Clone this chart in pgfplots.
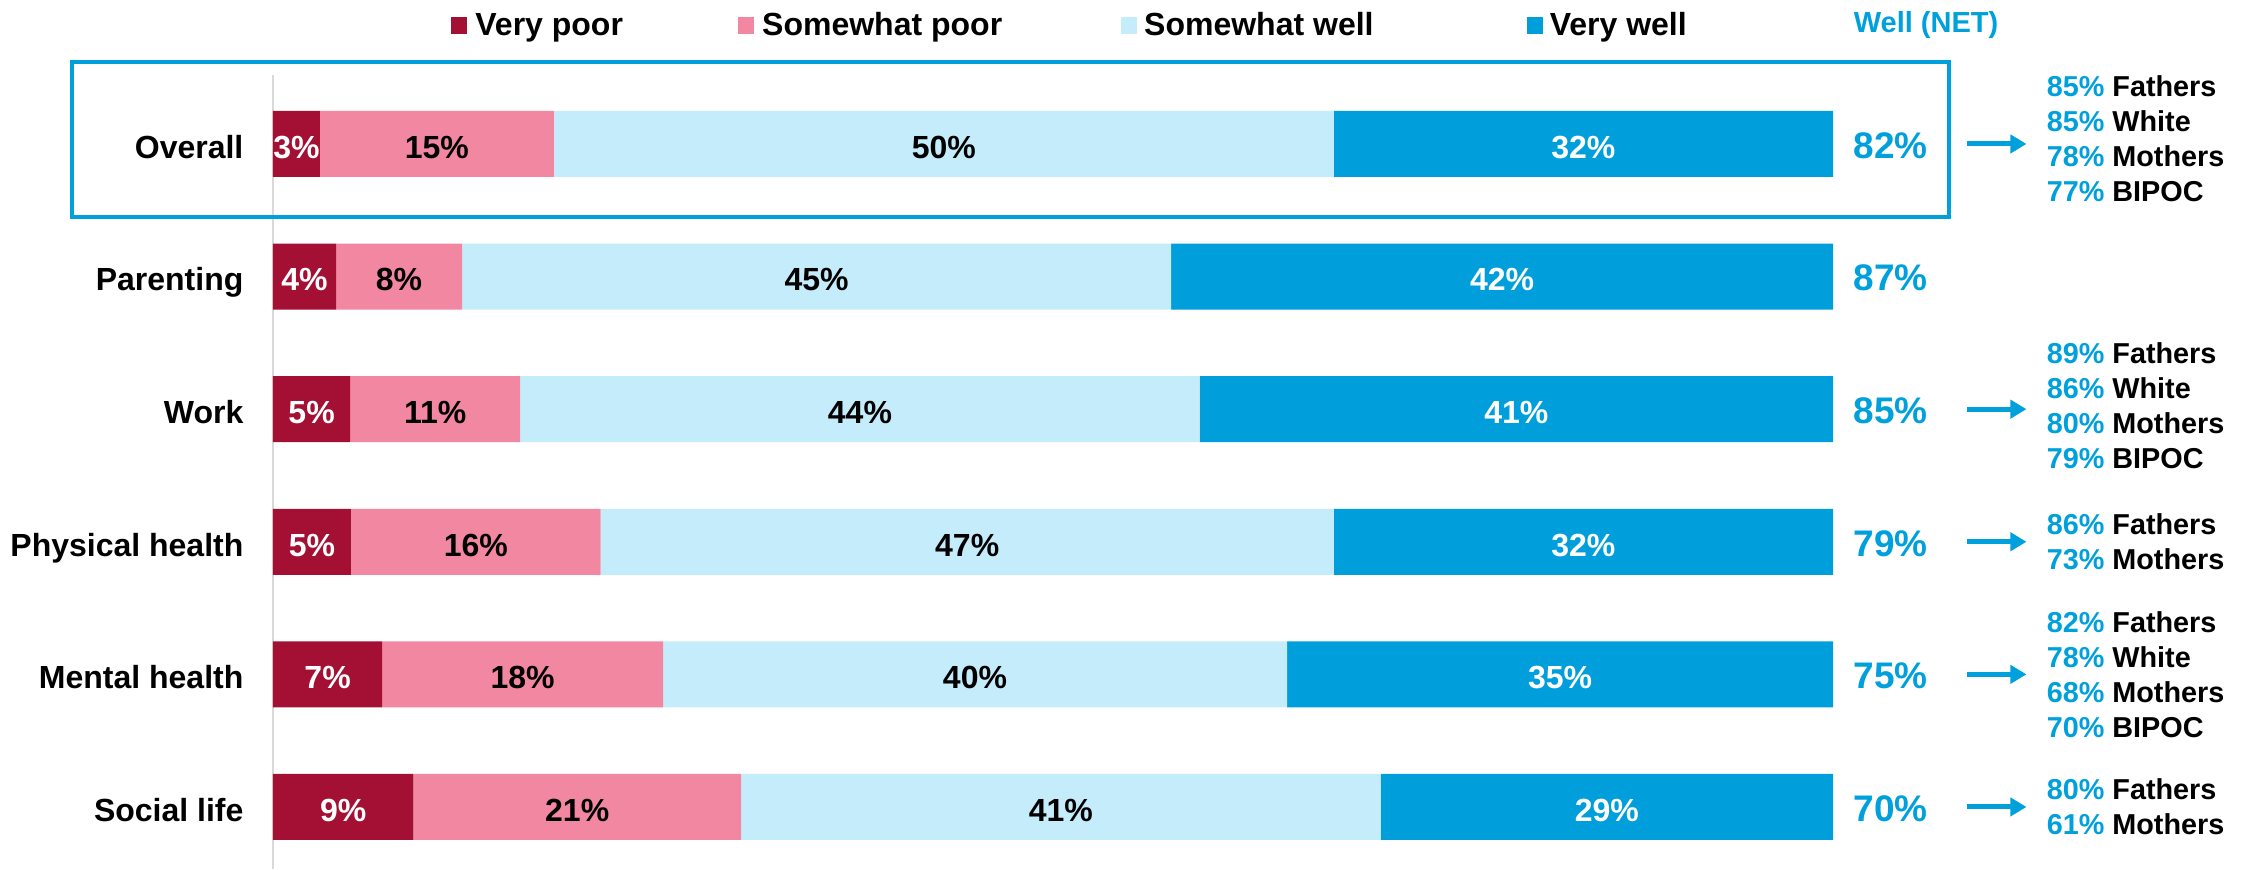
\documentclass[border=0pt]{standalone}
\usepackage{fontspec}
\setmainfont{Liberation Sans}
\usepackage{pgfplots}
\usepackage{pgfplotstable}
\pgfplotsset{compat=1.18, /pgf/number format/assume math mode=true}
\usetikzlibrary{arrows.meta}

\definecolor{vpc}{HTML}{A31034}
\definecolor{spc}{HTML}{F287A1}
\definecolor{swc}{HTML}{C5ECFB}
\definecolor{vwc}{HTML}{009FDB}
\definecolor{netblue}{HTML}{00A0DC}
\definecolor{axisgray}{HTML}{D9D9D9}

\newcommand\catfont{\fontsize{8}{9.5}\selectfont\bfseries}
\newcommand\netfont{\fontsize{9.25}{11}\selectfont\bfseries}
\newcommand\subfont{\fontsize{7.2}{8.75}\selectfont\bfseries}
\newcommand\pc[1]{\textcolor{netblue}{#1\%}}
% rounded shares do not always add up to 100: bars are drawn as shares of the row sum
\newcommand\tot{(\thisrow{vp}+\thisrow{sp}+\thisrow{sw}+\thisrow{vw})}

% share of respondents, per area
\pgfplotstableread{
row cat               vp sp sw vw net
0   Overall           3  15 50 32 82\%
1   Parenting         4  8  45 42 87\%
2   Work              5  11 44 41 85\%
3   {Physical health} 5  16 47 32 79\%
4   {Mental health}   7  18 40 35 75\%
5   {Social life}     9  21 41 29 70\%
}\data

\pgfplotsset{
  frame/.style={
    at={(0,0)}, anchor=south west,
    scale only axis, width=390pt, height=198.5pt,
    xmin=0, xmax=100, ymin=-0.52, ymax=5.468, y dir=reverse,
    clip=false, major tick length=0pt,
  },
  seglabel/.style={draw=none, point meta=explicit,
    nodes near coords={\pgfmathprintnumber{\pgfplotspointmeta}\%},
    every node near coord/.append style={font=\catfont, anchor=center, inner sep=0pt,
      text height=0.716em, text depth=0pt, text=#1}},
}
\tikzset{sub/.style={font=\subfont, align=left, anchor=west, inner sep=0pt}}

\begin{document}
\begin{tikzpicture}
\useasboundingbox (-68.25pt,0pt) rectangle (495.75pt,217.25pt);

\begin{axis}[frame,
  xbar stacked, bar width=16.5pt,
  axis x line=none, axis y line=left,
  y axis line style={-, draw=axisgray, line width=0.6pt},
  ytick={0,...,5}, yticklabels from table={\data}{cat},
  yticklabel style={font=\catfont, anchor=east, inner sep=0pt, xshift=-7.2pt,
    text height=0.716em, text depth=0pt},
]
\addplot[fill=vpc, draw=none] table[x expr={100*\thisrow{vp}/\tot}, y=row] {\data};
\addplot[fill=spc, draw=none] table[x expr={100*\thisrow{sp}/\tot}, y=row] {\data};
\addplot[fill=swc, draw=none] table[x expr={100*\thisrow{sw}/\tot}, y=row] {\data};
\addplot[fill=vwc, draw=none] table[x expr={100*\thisrow{vw}/\tot}, y=row] {\data};

% subgroup call-outs
\pgfplotsinvokeforeach{0,2,3,4,5}{
  \draw[netblue, line width=1.25pt, -{Triangle[length=4pt,width=4.5pt]}]
    (axis cs:108.6,#1) -- (axis cs:112.4,#1);
}
\node[sub, yshift=1.2pt] at (axis cs:113.65,0)
  {\pc{85} Fathers\\\pc{85} White\\\pc{78} Mothers\\\pc{77} BIPOC};
\node[sub, yshift=0.8pt] at (axis cs:113.65,2)
  {\pc{89} Fathers\\\pc{86} White\\\pc{80} Mothers\\\pc{79} BIPOC};
\node[sub] at (axis cs:113.65,3)
  {\pc{86} Fathers\\\pc{73} Mothers};
\node[sub] at (axis cs:113.65,4)
  {\pc{82} Fathers\\\pc{78} White\\\pc{68} Mothers\\\pc{70} BIPOC};
\node[sub] at (axis cs:113.65,5)
  {\pc{80} Fathers\\\pc{61} Mothers};
\end{axis}

% segment labels (at segment centres) and NET column on the right
\begin{axis}[frame,
  axis x line=none, axis y line=right,
  y axis line style={draw=none},
  ytick={0,...,5}, yticklabels from table={\data}{net},
  yticklabel style={font=\netfont, text=netblue, anchor=west, inner sep=0pt, xshift=5pt,
    text height=0.716em, text depth=0pt},
]
\addplot[seglabel=white] table[x expr={100*(\thisrow{vp}/2)/\tot}, y=row, meta=vp] {\data};
\addplot[seglabel=black] table[x expr={100*(\thisrow{vp}+\thisrow{sp}/2)/\tot}, y=row, meta=sp] {\data};
\addplot[seglabel=black] table[x expr={100*(\thisrow{vp}+\thisrow{sp}+\thisrow{sw}/2)/\tot}, y=row, meta=sw] {\data};
\addplot[seglabel=white] table[x expr={100*(\thisrow{vp}+\thisrow{sp}+\thisrow{sw}+\thisrow{vw}/2)/\tot}, y=row, meta=vw] {\data};
\end{axis}

% highlight box round the Overall row
\draw[netblue, line width=1pt] (-50.25pt,163pt) rectangle (419pt,201.75pt);

% legend
\fill[vpc] (44.5pt,208.75pt) rectangle ++(4pt,4.25pt);
\node[font=\catfont, anchor=base west, inner sep=0pt] at (50.4pt,208.4pt) {Very poor};
\fill[spc] (116.25pt,208.75pt) rectangle ++(4pt,4.25pt);
\node[font=\catfont, anchor=base west, inner sep=0pt] at (122.1pt,208.4pt) {Somewhat poor};
\fill[swc] (212pt,208.75pt) rectangle ++(4pt,4.25pt);
\node[font=\catfont, anchor=base west, inner sep=0pt] at (217.6pt,208.4pt) {Somewhat well};
\fill[vwc] (313.5pt,208.75pt) rectangle ++(4pt,4.25pt);
\node[font=\catfont, anchor=base west, inner sep=0pt] at (319pt,208.4pt) {Very well};
\node[font=\fontsize{7.25}{8}\selectfont\bfseries, text=netblue, anchor=base west, inner sep=0pt]
  at (395pt,209.2pt) {Well (NET)};
\end{tikzpicture}
\end{document}
